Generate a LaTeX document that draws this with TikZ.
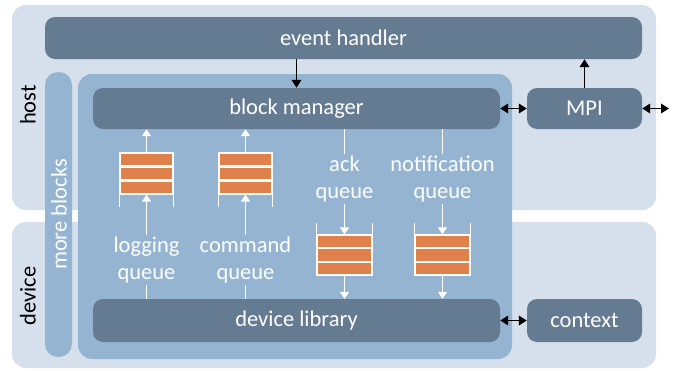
\documentclass[tikz,border=0pt]{standalone}
\usepackage{fontspec}
\setmainfont{Carlito}
\usetikzlibrary{arrows.meta,calc}
\definecolor{panelc}{HTML}{D5E0EC}
\definecolor{innerc}{HTML}{94B4D2}
\definecolor{darkc}{HTML}{647B92}
\definecolor{orangec}{HTML}{E0804A}
\tikzset{
  panelbox/.style={fill=panelc, rounded corners=14pt, inner sep=0pt, draw=none},
  innerbox/.style={fill=innerc, rounded corners=13pt, inner sep=0pt, draw=none},
  darkbox/.style={fill=darkc, rounded corners=10pt, text=white, inner sep=0pt, draw=none},
  qbars/.style={fill=orangec, draw=white, line width=1.3pt, inner sep=0pt, minimum width=53pt, minimum height=41pt},
  qlabel/.style={text=white, align=center, inner sep=2pt},
  wline/.style={draw=white, line width=1.5pt},
  warrow/.style={draw=white, line width=1.5pt, -{Triangle[width=9pt,length=7pt]}},
  barrow/.style={draw=black, line width=1.9pt, -{Triangle[width=9.5pt,length=8pt]}},
  bdarrow/.style={draw=black, line width=1.9pt, {Triangle[width=9.5pt,length=8pt]}-{Triangle[width=9.5pt,length=8pt]}},
  sidelabel/.style={rotate=90, text=black}
}
\begin{document}
\begin{tikzpicture}[x=1pt,y=-1pt, font=\fontsize{22.5}{27}\selectfont]
\useasboundingbox (0,0) rectangle (683,370);
% panels
\node[panelbox, minimum width=644pt, minimum height=205pt] (host) at (334,107.5) {};
\node[panelbox, minimum width=644pt, minimum height=146pt] (device) at (334,295) {};
\node[sidelabel] (hostlbl) at (28,105) {host};
\node[sidelabel] (devlbl) at (28,296) {device};
% more blocks bar and inner panel
\node[innerbox, minimum width=27pt, minimum height=285pt] (more) at (58.5,214.5) {};
\node[rotate=90, text=white] (morelbl) at (59,214.5) {more blocks};
\node[innerbox, rounded corners=14pt, minimum width=434pt, minimum height=285pt] (inner) at (295,216.5) {};
% dark boxes
\node[darkbox, minimum width=597pt, minimum height=42pt] (eh) at (343.5,38) {event handler};
\node[darkbox, minimum width=407pt, minimum height=41pt] (bm) at (296.5,108.5) {block manager};
\node[darkbox, minimum width=115pt, minimum height=41pt] (mpi) at (584.5,108.5) {MPI};
\node[darkbox, minimum width=407pt, minimum height=43pt] (dl) at (296.5,320.5) {device library};
\node[darkbox, minimum width=115pt, minimum height=43pt] (ctx) at (584.5,320.5) {context};
\coordinate (mpiout) at (669,108.5);
% queues
\node[qbars] (lq) at (146.5,173.5) {};
\node[qbars] (cq) at (245.5,173.5) {};
\node[qbars, minimum width=55pt, minimum height=40pt] (aq) at (344.5,255) {};
\node[qbars, minimum width=55pt, minimum height=40pt] (nq) at (442.5,255) {};
\foreach \q in {lq,cq,aq,nq}{
  \draw[white, line width=2.2pt] ($(\q.north west)!1/3!(\q.south west)$) -- ($(\q.north east)!1/3!(\q.south east)$);
  \draw[white, line width=2.2pt] ($(\q.north west)!2/3!(\q.south west)$) -- ($(\q.north east)!2/3!(\q.south east)$);
}
\foreach \q in {lq,cq}{
  \draw[wline] (\q.north west) -- ++(0,55);
  \draw[wline] (\q.north east) -- ++(0,55);
}
\foreach \q in {aq,nq}{
  \draw[wline] (\q.south west) -- ++(0,-53);
  \draw[wline] (\q.south east) -- ++(0,-53);
}
% queue labels
\node[qlabel] (ll) at (146.5,260) {logging\\queue};
\node[qlabel] (cl) at (245.5,260) {command\\queue};
\node[qlabel] (al) at (344.5,179) {ack\\queue};
\node[qlabel] (nl) at (442.5,179) {notification\\queue};
% white connectors
\foreach \q/\l in {lq/ll,cq/cl}{
  \draw[warrow] (\q.north) -- (\q.north |- bm.south);
  \draw[warrow] (\l.north) -- (\q.south);
  \draw[wline] (\l.south |- dl.north) -- (\l.south);
}
\foreach \q/\l in {aq/al,nq/nl}{
  \draw[wline] (\l.north |- bm.south) -- (\l.north);
  \draw[warrow] (\l.south) -- (\q.north);
  \draw[warrow] (\q.south) -- (\q.south |- dl.north);
}
% black connectors
\draw[barrow] (bm.north |- eh.south) -- (bm.north);
\draw[barrow] (mpi.north) -- (mpi.north |- eh.south);
\draw[bdarrow] (bm.east) -- (mpi.west);
\draw[bdarrow] (mpi.east) -- (mpiout);
\draw[bdarrow] (dl.east) -- (ctx.west);
\end{tikzpicture}
\end{document}
